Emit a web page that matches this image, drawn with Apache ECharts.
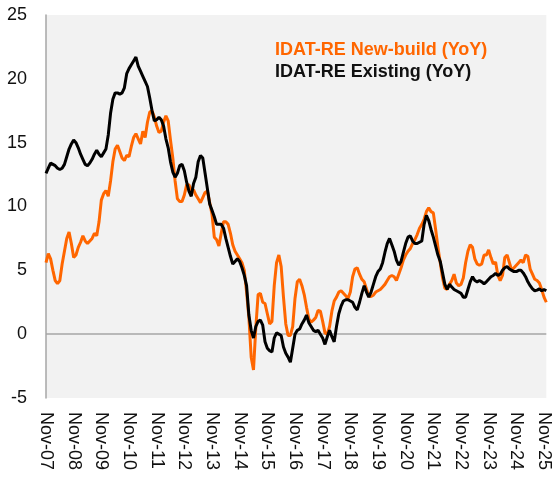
<!DOCTYPE html>
<html>
<head>
<meta charset="utf-8">
<script src="https://cdn.jsdelivr.net/npm/echarts@6/dist/echarts.min.js"></script>
<style>
html, body { margin: 0; padding: 0; background: #fff; }
#chart { width: 553px; height: 480px; }
</style>
</head>
<body>
<div id="chart"></div>
<script>
// monthly, Nov-07 .. Dec-25
var monthNames = ['Jan','Feb','Mar','Apr','May','Jun','Jul','Aug','Sep','Oct','Nov','Dec'];
var months = [];
for (var y = 2007, mo = 10; months.length < 218; mo++) {
	if (mo > 11) { mo = 0; y++; }
	months.push(monthNames[mo] + '-' + String(y).slice(2));
}

var yTicks = [-5, 0, 5, 10, 15, 20, 25];

var newBuild = [
	5.6, 6.3, 5.9, 5.0, 4.2, 3.95, 4.2, 5.5, 6.5, 7.5, 8.0, 7.1,
	6.0, 6.2, 6.8, 7.2, 7.7, 7.3, 7.1, 7.3, 7.5, 7.9, 7.7, 8.8,
	10.5, 11.0, 11.25, 10.8, 12.0, 13.5, 14.5, 14.8, 14.3, 13.8, 13.6, 14.0,
	13.9, 14.7, 15.4, 15.7, 15.3, 14.9, 15.9, 15.4, 16.6, 17.4, 17.5, 17.0,
	16.3, 15.8, 15.9, 16.6, 17.1, 16.7, 15.2, 13.8, 12.0, 10.6, 10.4, 10.4,
	10.9, 11.7, 11.7, 11.3, 11.3, 10.9, 10.6, 10.3, 10.7, 11.1, 11.2, 10.3,
	9.4, 7.6, 7.4, 6.9, 7.9, 8.8, 8.8, 8.6, 7.9, 7.0, 6.5, 6.2,
	5.9, 5.6, 5.0, 3.3, 1.3, -1.8, -2.8, 0.5, 3.1, 3.2, 2.5, 2.4,
	1.6, 0.8, 1.0, 3.8, 5.6, 6.2, 5.3, 2.9, 0.8, -0.1, -0.1, 0.6,
	2.8, 4.1, 4.3, 3.8, 3.1, 2.1, 1.2, 0.95, 1.1, 1.3, 1.85, 1.8,
	1.0, 0.1, 0.0, 0.6, 1.8, 2.6, 2.9, 3.3, 3.4, 3.2, 3.0, 2.8,
	3.3, 4.5, 5.1, 5.2, 4.7, 4.3, 4.1, 3.55, 3.0, 2.95, 3.05, 3.3,
	3.4, 3.5, 3.7, 3.9, 4.2, 4.5, 4.6, 4.5, 4.2, 4.7, 5.2, 5.8,
	6.2, 6.5, 6.7, 7.1, 7.4, 7.8, 8.3, 8.6, 9.0, 9.6, 9.9, 9.6,
	9.5, 8.2, 6.8, 5.6, 4.4, 3.6, 3.5, 3.9, 4.2, 4.7, 4.0, 3.8,
	3.9, 4.4, 5.6, 6.5, 7.0, 6.8, 5.9, 5.5, 5.4, 5.5, 6.2, 6.2,
	6.6, 6.0, 5.5, 5.65, 4.6, 4.2, 4.6, 6.0, 6.2, 5.6, 5.0, 5.2,
	5.4, 5.6, 5.8, 5.6, 6.2, 6.1, 5.1, 4.7, 4.3, 4.2, 4.0, 3.5,
	2.9, 2.5
];

var existing = [
	12.6, 13.0, 13.4, 13.3, 13.2, 13.0, 12.9, 13.0, 13.3, 13.9, 14.5, 14.9,
	15.2, 15.0, 14.6, 14.1, 13.7, 13.3, 13.2, 13.4, 13.7, 14.1, 14.4, 14.1,
	13.9, 14.2, 14.5, 15.6, 17.3, 18.4, 18.9, 18.9, 18.8, 18.9, 19.3, 20.4,
	20.8, 21.1, 21.4, 21.7, 21.0, 20.6, 20.2, 19.8, 19.4, 18.5, 17.5, 16.7,
	16.8, 17.0, 16.8, 16.3, 15.3, 14.6, 13.5, 12.7, 12.3, 12.6, 13.2, 13.3,
	12.8, 11.9, 11.2, 10.8, 11.8, 12.3, 13.5, 14.0, 13.8, 12.6, 11.4, 10.2,
	9.7, 9.2, 8.6, 8.6, 8.6, 8.3, 7.5, 6.8, 6.1, 5.5, 5.7, 5.9,
	5.7, 5.2, 4.6, 3.8, 1.5, 0.3, -0.3, 0.6, 1.0, 1.1, 0.7, -0.6,
	-1.1, -1.3, -1.4, -0.3, 0.1, 0.0, -0.1, -1.0, -1.5, -1.8, -2.2, -1.1,
	0.0, 0.3, 0.4, 0.8, 1.1, 1.5, 0.9, 0.6, 0.3, 0.2, 0.3, 0.0,
	-0.3, -0.8, -0.2, 0.3, -0.2, -0.6, 0.6, 1.6, 2.2, 2.6, 2.7, 2.7,
	2.6, 2.5, 2.1, 1.9, 2.5, 3.2, 3.8, 3.3, 2.9, 3.3, 3.9, 4.5,
	4.9, 5.1, 5.6, 6.4, 7.1, 7.5, 7.0, 6.5, 5.8, 5.4, 5.7, 6.4,
	7.1, 7.6, 7.7, 7.3, 7.1, 7.1, 7.2, 7.3, 8.6, 9.3, 8.9, 8.2,
	7.6, 6.9, 6.2, 5.7, 4.8, 3.9, 3.5, 3.9, 3.7, 3.5, 3.4, 3.3,
	3.2, 2.9, 2.9, 3.5, 4.1, 4.5, 4.2, 4.1, 4.2, 4.1, 3.95, 4.1,
	4.3, 4.5, 4.6, 4.75, 4.6, 4.7, 5.0, 5.2, 5.3, 5.1, 5.0, 4.9,
	4.9, 5.0, 5.0, 4.8, 4.5, 4.1, 3.8, 3.55, 3.4, 3.45, 3.55, 3.4,
	3.5, 3.4
];

var seriesNames = ['IDAT-RE New-build (YoY)', 'IDAT-RE Existing (YoY)'];
var seriesColors = ['#ff6600', '#000000'];

var font = "'Liberation Sans', Arial, sans-serif";

// only the zero line is drawn among the split lines
var zeroLine = yTicks.map(function(v){ return v === 0 ? '#a6a6a6' : 'rgba(0,0,0,0)'; });

var option = {
	backgroundColor: '#fff',
	animation: false,
	textStyle: { fontFamily: font },
	grid: {
		left: 46, right: 3, top: 15, bottom: 82,
		show: true,
		backgroundColor: '#f2f2f2',
		borderWidth: 0
	},
	legend: {
		orient: 'vertical',
		left: 265,
		top: 36,
		itemGap: 4,
		icon: 'none',
		itemWidth: 0,
		selectedMode: false,
		textStyle: { fontSize: 18, fontWeight: 'bold', fontFamily: font },
		data: [
			{ name: seriesNames[0], textStyle: { color: seriesColors[0] } },
			{ name: seriesNames[1], textStyle: { color: '#111' } }
		]
	},
	xAxis: {
		type: 'category',
		data: months,
		boundaryGap: false,
		axisLine: { show: false },
		axisTick: { show: false },
		splitLine: { show: false },
		axisLabel: {
			interval: 11,
			rotate: -90,
			margin: 14,
			color: '#111',
			fontSize: 18,
			fontFamily: font
		}
	},
	yAxis: {
		type: 'value',
		min: yTicks[0],
		max: yTicks[yTicks.length - 1],
		interval: 5,
		axisLine: { show: true, lineStyle: { color: '#a6a6a6', width: 1.5 } },
		axisTick: { show: false },
		splitLine: { show: true, lineStyle: { color: zeroLine, width: 1.5 } },
		axisLabel: { color: '#111', fontSize: 18, margin: 19, fontFamily: font }
	},
	series: [{
		name: seriesNames[0],
		type: 'line',
		data: newBuild,
		showSymbol: false,
		symbol: 'none',
		lineStyle: { color: seriesColors[0], width: 3 },
		itemStyle: { color: seriesColors[0] }
	}, {
		name: seriesNames[1],
		type: 'line',
		data: existing,
		showSymbol: false,
		symbol: 'none',
		lineStyle: { color: seriesColors[1], width: 3 },
		itemStyle: { color: seriesColors[1] }
	}]
};

var myChart = echarts.init(document.getElementById('chart'));
myChart.setOption(option);
</script>
</body>
</html>
